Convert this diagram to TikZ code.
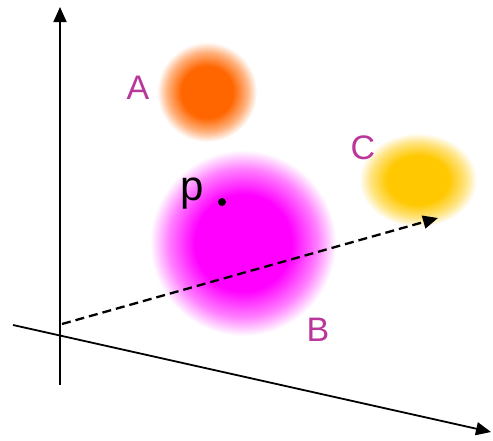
\documentclass[tikz,border=0pt]{standalone}
\usepackage{fontspec}
\setmainfont{Liberation Sans}
\usetikzlibrary{arrows.meta,shapes.geometric}

\definecolor{blobOrange}{RGB}{255,102,0}
\definecolor{blobMagenta}{RGB}{255,0,255}
\definecolor{blobGold}{RGB}{255,200,0}
\definecolor{labelPurple}{RGB}{185,55,155}

% soft blobs: flat core, fading to white at the rim
\pgfdeclareradialshading{fadeA}{\pgfpoint{0bp}{0bp}}{color(0bp)=(blobOrange); color(13bp)=(blobOrange); color(20bp)=(blobOrange!50!white); color(25bp)=(white); color(50bp)=(white)}
\pgfdeclareradialshading{fadeB}{\pgfpoint{0bp}{0bp}}{color(0bp)=(blobMagenta); color(13bp)=(blobMagenta); color(20bp)=(blobMagenta!50!white); color(25bp)=(white); color(50bp)=(white)}
\pgfdeclareradialshading{fadeC}{\pgfpoint{0bp}{0bp}}{color(0bp)=(blobGold); color(13bp)=(blobGold); color(20bp)=(blobGold!50!white); color(25bp)=(white); color(50bp)=(white)}

\begin{document}
\begin{tikzpicture}[x=1pt,y=-1pt,
    blob/.style={shade,inner sep=0pt},
    lbl/.style={text=labelPurple,inner sep=0pt,font=\fontsize{34}{34}\selectfont},
    axis/.style={line width=1.8pt,-{Triangle[length=15pt,width=13pt]}}]
    \useasboundingbox (0,0) rectangle (493,440);

    % Blobs
    \node[blob,circle,minimum size=100pt,shading=fadeA] (A) at (207,92) {};
    \node[blob,circle,minimum size=186pt,shading=fadeB] (B) at (243,243) {};
    \node[blob,ellipse,minimum width=118pt,minimum height=94pt,shading=fadeC] (C) at (418,180) {};

    % Axes
    \coordinate (ybot) at (60,385);
    \coordinate (ytop) at (60,7);
    \coordinate (xleft) at (13,325);
    \coordinate (xright) at (491,432);
    \draw[axis] (ybot) -- (ytop);
    \draw[axis] (xleft) -- (xright);

    % Vector towards C
    \coordinate (start) at (62,324);
    \coordinate (tip) at (438,218);
    \draw[line width=2.3pt,dash pattern=on 9pt off 5pt,-{Triangle[length=15pt,width=13pt]}] (start) -- (tip);

    % Point p
    \node[anchor=base west,inner sep=0pt,font=\fontsize{42}{42}\selectfont] (p) at (180,200) {p};
    \node[circle,fill,inner sep=0pt,minimum size=8pt] (dot) at (222,202) {};

    \node[lbl] (labA) at (138,88) {A};
    \node[lbl] (labB) at (318,330) {B};
    \node[lbl] (labC) at (363,148) {C};
\end{tikzpicture}
\end{document}
